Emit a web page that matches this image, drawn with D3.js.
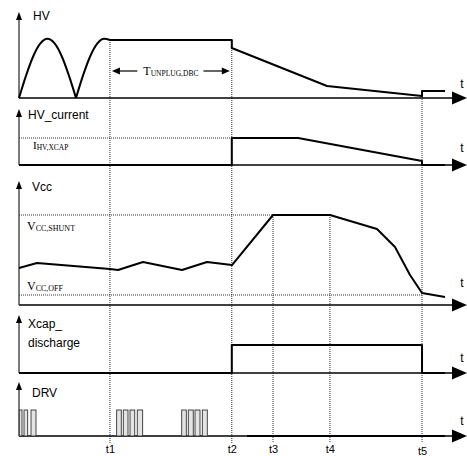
<!DOCTYPE html>
<html>
<head>
<meta charset="utf-8">
<script src="https://cdn.jsdelivr.net/npm/d3@7"></script>
<style>
  body { margin: 0; background: #fff; }
  .lbl { font-family: "Liberation Sans", Arial, sans-serif; font-size: 12px; }
  .sym { font-family: "Liberation Serif", "Times New Roman", serif; }
</style>
</head>
<body>
<svg id="chart" width="467" height="456"></svg>
<script>
// time markers (time axis goes 0..100)
var tMarks = [20.3, 47.5, 56.7, 69.4, 89.96];
var tLabels = ["t1", "t2", "t3", "t4", "t5"];

// HV: two rectified mains half waves, then hold and decay
var hvArch1 = [[0, 0], [1.59, 0.39], [3.18, 0.72], [4.77, 0.94], [6.36, 1.02], [7.95, 0.94], [9.54, 0.72], [11.13, 0.39], [12.72, 0]];
var hvArch2 = [[12.72, 0], [14.3, 0.39], [15.9, 0.72], [17.5, 0.94], [19.0, 1.02], [20.3, 1.0]];
var hvRest = [[20.3, 1], [47.5, 1], [47.5, 0.862], [68.75, 0.207], [89.96, 0.034], [89.96, 0.121], [95.1, 0.121]];

// HV current
var hvCurrent = [[0, 0], [47.5, 0], [47.5, 1], [62.3, 1], [89.96, 0.148], [89.96, 0], [95.1, 0]];

// Vcc (1 = VCC,SHUNT)
var vccOff = 0.111;
var vcc = [[0, 0.411], [4.02, 0.467], [20.31, 0.4], [22.1, 0.389], [27.68, 0.478], [36.38, 0.389],
  [41.96, 0.478], [47.54, 0.444], [56.7, 1.0], [69.42, 1.0], [79.91, 0.844], [83.93, 0.644],
  [87.28, 0.333], [89.96, 0.133], [95.09, 0.089]];

// Xcap discharge
var xcap = [[0, 0], [47.5, 0], [47.5, 1], [89.96, 1], [89.96, 0], [95.1, 0]];

// DRV pulses [start, end]
var drvPulses = [[0.07, 0.67], [1.12, 1.94], [2.68, 3.79],
  [21.8, 22.83], [23.28, 24.33], [24.78, 25.83], [26.4, 27.6],
  [36.32, 37.34], [37.79, 38.9], [39.29, 40.4], [40.92, 42.03]];
var drvLow = [[50.9, 0], [95.1, 0]];

function main()
{
  var svg = d3.select("#chart");
  var x = d3.scaleLinear().domain([0, 100]).range([19, 467]);

  // one entry per panel: y scale, top of the vertical arrow, label lines, "t" baseline
  var panels = [
    { y: d3.scaleLinear().domain([0, 1]).range([98, 40]), top: 12, names: [["HV", 33, 20]], tY: 88 },
    { y: d3.scaleLinear().domain([0, 1]).range([165, 138]), top: 109, names: [["HV_current", 28, 119]], tY: 152 },
    { y: d3.scaleLinear().domain([0, 1]).range([305, 215]), top: 181, names: [["Vcc", 32, 191]], tY: 287 },
    { y: d3.scaleLinear().domain([0, 1]).range([373, 345]), top: 315, names: [["Xcap_", 28, 328], ["discharge", 28, 347]], tY: 362 },
    { y: d3.scaleLinear().domain([0, 1]).range([436, 410]), top: 382, names: [["DRV", 32, 397]], tY: 425 }
  ];
  var pHV = panels[0], pCur = panels[1], pVcc = panels[2], pX = panels[3], pDrv = panels[4];

  var line = function (p, curve) {
    return d3.line()
      .x(function (d) { return x(d[0]); })
      .y(function (d) { return p.y(d[1]); })
      .curve(curve || d3.curveLinear);
  };

  // vertical dotted guides at the time markers
  var guideTop = [pHV.y(1), pHV.y(1), pVcc.y(1), pVcc.y(1), pHV.y(0.121)];
  svg.append("g").selectAll("line")
    .data(tMarks)
    .enter().append("line")
    .attr("x1", function (d) { return x(d); })
    .attr("x2", function (d) { return x(d); })
    .attr("y1", function (d, i) { return guideTop[i]; })
    .attr("y2", 443)
    .attr("stroke", "#333").attr("stroke-width", 1).attr("stroke-dasharray", "1,1");

  // dotted level lines
  var levels = [
    [pCur, 1, 0, tMarks[1]],
    [pVcc, 1, 0, tMarks[2]],
    [pVcc, vccOff, 0, tMarks[4]]
  ];
  svg.append("g").selectAll("line")
    .data(levels)
    .enter().append("line")
    .attr("x1", function (d) { return x(d[2]); })
    .attr("x2", function (d) { return x(d[3]); })
    .attr("y1", function (d) { return d[0].y(d[1]); })
    .attr("y2", function (d) { return d[0].y(d[1]); })
    .attr("stroke", "#333").attr("stroke-width", 1).attr("stroke-dasharray", "1,1");

  // axes with arrowheads
  panels.forEach(function (p) {
    var base = p.y(0);
    var g = svg.append("g");
    g.append("line")
      .attr("x1", x(0)).attr("x2", x(100) - 10)
      .attr("y1", base).attr("y2", base)
      .attr("stroke", "#000").attr("stroke-width", 1.3);
    g.append("path")
      .attr("d", "M" + x(100) + "," + base + "L" + (x(100) - 15) + "," + (base - 6.5) + "L" + (x(100) - 15) + "," + (base + 6.5) + "Z")
      .attr("fill", "#000");
    g.append("line")
      .attr("x1", x(0)).attr("x2", x(0))
      .attr("y1", p.top + 5).attr("y2", base)
      .attr("stroke", "#333").attr("stroke-width", 1.3);
    g.append("path")
      .attr("d", "M" + x(0) + "," + p.top + "L" + (x(0) - 3) + "," + (p.top + 8) + "L" + (x(0) + 3) + "," + (p.top + 8) + "Z")
      .attr("fill", "#000");
    g.append("text").attr("class", "lbl")
      .attr("x", 462).attr("y", p.tY).attr("text-anchor", "middle").text("t");
    p.names.forEach(function (n) {
      g.append("text").attr("class", "lbl").attr("x", n[1]).attr("y", n[2]).text(n[0]);
    });
  });

  // waveforms
  var trace = svg.append("g").attr("fill", "none").attr("stroke", "#000")
    .attr("stroke-width", 2).attr("stroke-linejoin", "round");
  trace.append("path").attr("d", line(pHV, d3.curveMonotoneX)(hvArch1));
  trace.append("path").attr("d", line(pHV, d3.curveMonotoneX)(hvArch2));
  trace.append("path").attr("d", line(pHV)(hvRest));
  trace.append("path").attr("d", line(pCur)(hvCurrent));
  trace.append("path").attr("d", line(pVcc)(vcc));
  trace.append("path").attr("d", line(pX)(xcap));
  trace.append("path").attr("d", line(pDrv)(drvLow));

  // DRV pulses
  svg.append("g").selectAll("rect")
    .data(drvPulses)
    .enter().append("rect")
    .attr("x", function (d) { return x(d[0]); })
    .attr("width", function (d) { return x(d[1]) - x(d[0]); })
    .attr("y", pDrv.y(1))
    .attr("height", pDrv.y(0) - pDrv.y(1))
    .attr("fill", "#e4e4e4").attr("stroke", "#333").attr("stroke-width", 0.9);

  // time labels under the DRV panel
  var tAxis = d3.axisBottom(x).tickValues(tMarks).tickSize(0).tickPadding(9)
    .tickFormat(function (d, i) { return tLabels[i]; });
  var ag = svg.append("g").attr("transform", "translate(0," + pDrv.y(0) + ")").call(tAxis);
  ag.select(".domain").remove();
  ag.selectAll("text").attr("font-family", "Liberation Sans, Arial, sans-serif")
    .attr("font-size", 11).attr("fill", "#000");
  ag.selectAll(".tick").filter(function (d, i) { return i === 4; }).select("text").attr("y", 11);

  // symbol labels (serif, with subscripts)
  function symbol(main, sub, px, py, size, subSize) {
    var t = svg.append("text").attr("class", "sym").attr("x", px).attr("y", py).attr("font-size", size);
    t.append("tspan").text(main);
    t.append("tspan").attr("font-size", subSize).attr("dy", 1).text(sub);
    return t;
  }
  symbol("I", "HV,XCAP", 33, 149, 11, 7.5);
  symbol("V", "CC,SHUNT", 27, 230, 12, 8);
  symbol("V", "CC,OFF", 27, 290, 12, 8);

  // T_UNPLUG,DBC dimension arrow between t1 and t2
  var ay = 71;
  var tt = symbol("T", "UNPLUG,DBC", 0, ay + 4, 12, 7.5);
  var bb = tt.node().getBBox();
  var mid = (x(tMarks[0]) + x(tMarks[1])) / 2;
  tt.attr("x", mid - bb.width / 2);
  var left = x(tMarks[0]) + 2, right = x(tMarks[1]) - 2;
  var ann = svg.append("g");
  ann.append("line").attr("x1", left + 6).attr("x2", mid - bb.width / 2 - 6)
    .attr("y1", ay).attr("y2", ay).attr("stroke", "#000").attr("stroke-width", 1.2);
  ann.append("line").attr("x1", mid + bb.width / 2 + 5).attr("x2", right - 6)
    .attr("y1", ay).attr("y2", ay).attr("stroke", "#000").attr("stroke-width", 1.2);
  ann.append("path").attr("d", "M" + left + "," + ay + "l8,-3.5l0,7Z").attr("fill", "#000");
  ann.append("path").attr("d", "M" + right + "," + ay + "l-8,-3.5l0,7Z").attr("fill", "#000");
}
main();
</script>
</body>
</html>
